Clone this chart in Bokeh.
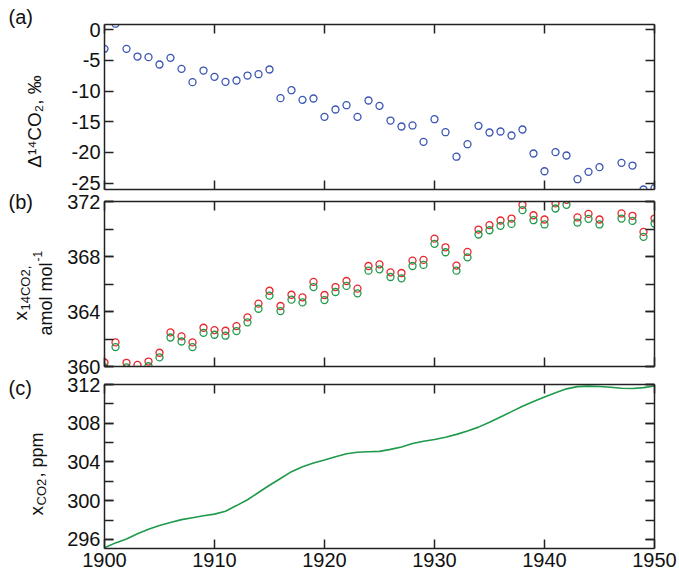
import math
from bokeh.plotting import figure
from bokeh.layouts import column, row
from bokeh.models import (LinearAxis, SingleIntervalTicker, Range1d, ColumnDataSource,
                          PrintfTickFormatter)
from bokeh.core.properties import value
from bokeh.embed import file_html
from bokeh.resources import INLINE

# ---------------- data ----------------
years_pts = [1900, 1901, 1902, 1903, 1904, 1905, 1906, 1907, 1908, 1909,
             1910, 1911, 1912, 1913, 1914, 1915, 1916, 1917, 1918, 1919,
             1920, 1921, 1922, 1923, 1924, 1925, 1926, 1927, 1928, 1929,
             1930, 1931, 1932, 1933, 1934, 1935, 1936, 1937, 1938, 1939,
             1940, 1941, 1942, 1943, 1944, 1945, 1947, 1948, 1949, 1950]

d14co2 = [-3.1, 1.0, -3.1, -4.36, -4.46, -5.66, -4.57, -6.36, -8.54, -6.64,
          -7.67, -8.49, -8.27, -7.46, -7.24, -6.47, -11.15, -9.85, -11.42, -11.2,
          -14.2, -13.0, -12.3, -14.2, -11.53, -12.4, -14.8, -15.77, -15.6, -18.27,
          -14.58, -16.7, -20.7, -18.66, -15.66, -16.75, -16.59, -17.24, -16.26, -20.18,
          -23.07, -19.96, -20.5, -24.37, -23.17, -22.41, -21.7, -22.14, -26.05, -25.84]

x14_red = [360.29, 361.75, 360.27, 360.12, 360.36, 361.0, 362.48, 362.19, 361.75, 362.82,
           362.65, 362.6, 362.94, 363.57, 364.57, 365.51, 364.4, 365.22, 365.03, 366.15,
           365.2, 365.78, 366.22, 365.66, 367.31, 367.43, 366.85, 366.8, 367.7, 367.75,
           369.3, 368.67, 367.34, 368.33, 369.96, 370.28, 370.62, 370.76, 371.76, 371.0,
           370.69, 371.86, 372.12, 370.84, 371.1, 370.69, 371.13, 370.96, 369.79, 370.76]

x14_green = [359.93, 361.41, 359.93, 359.76, 360.02, 360.66, 362.11, 361.82, 361.41, 362.45,
             362.31, 362.24, 362.58, 363.21, 364.2, 365.15, 364.03, 364.86, 364.66, 365.78,
             364.83, 365.42, 365.86, 365.32, 366.97, 367.07, 366.51, 366.41, 367.31, 367.39,
             368.92, 368.31, 366.97, 367.94, 369.6, 369.91, 370.23, 370.37, 371.37, 370.64,
             370.33, 371.49, 371.76, 370.47, 370.74, 370.33, 370.76, 370.59, 369.43, 370.4]

years_line = list(range(1900, 1951))
xco2 = [295.15, 295.65, 296.05, 296.6, 297.05, 297.45, 297.75, 298.05, 298.25, 298.45,
        298.62, 298.92, 299.5, 300.1, 300.85, 301.6, 302.3, 303.0, 303.5, 303.9,
        304.2, 304.55, 304.85, 305.0, 305.05, 305.1, 305.3, 305.55, 305.9, 306.15,
        306.32, 306.55, 306.85, 307.2, 307.6, 308.1, 308.65, 309.2, 309.75, 310.25,
        310.7, 311.15, 311.55, 311.78, 311.83, 311.8, 311.72, 311.62, 311.58, 311.68,
        311.85]

panel_tags = ["(a)", "(b)", "(c)"]

# ---------------- styling ----------------
FONT = "Liberation Sans"
AX = "#222222"
TXT = "#111111"
BLUE = "#3a55b4"
RED = "#e8262b"
GREEN = "#1e9a4a"
LAB_W = 60            # width of the left strip holding the axis titles
W_LEFT, W_RIGHT, FW = 104 - LAB_W, 25, 550

x_range = Range1d(1900, 1950)


def style_axis(ax, ticker, show_labels):
    ax.ticker = ticker
    ax.axis_line_color = AX
    ax.axis_line_width = 1.5
    ax.major_tick_line_color = AX
    ax.minor_tick_line_color = AX
    ax.major_tick_line_width = 1.5
    ax.minor_tick_line_width = 1.5
    ax.major_tick_in = 9
    ax.major_tick_out = 0
    ax.minor_tick_in = 9
    ax.minor_tick_out = 0
    ax.major_label_text_font = FONT
    ax.formatter = PrintfTickFormatter(format="%d")
    if show_labels:
        ax.major_label_text_color = TXT
        ax.major_label_text_font_size = "20px"
        ax.major_label_standoff = 4
    else:
        ax.major_label_text_color = None
        ax.major_label_text_font_size = "1px"
        ax.major_label_standoff = 0


def make_fig(y_range, fh, top, bottom, yticker, xlabels):
    p = figure(frame_width=FW, frame_height=fh, x_range=x_range, y_range=y_range,
               output_backend="svg", toolbar_location=None,
               min_border_left=W_LEFT, min_border_right=W_RIGHT,
               min_border_top=top, min_border_bottom=bottom)
    p.grid.visible = False
    p.outline_line_color = None
    xt = SingleIntervalTicker(interval=10, num_minor_ticks=0)
    style_axis(p.xaxis[0], xt, xlabels)
    style_axis(p.yaxis[0], yticker, True)
    top_ax = LinearAxis()
    style_axis(top_ax, xt, False)
    p.add_layout(top_ax, "above")
    right_ax = LinearAxis()
    style_axis(right_ax, yticker, False)
    p.add_layout(right_ax, "right")
    return p


# ---- panel (a)
pa = make_fig(Range1d(-26.05, 0.87), 165, 24, 4,
              SingleIntervalTicker(interval=5, num_minor_ticks=0), False)
src_a = ColumnDataSource(dict(year=years_pts, v=d14co2))
pa.scatter("year", "v", source=src_a, marker="circle", size=7, fill_color=None,
           line_color=BLUE, line_width=1.3)

# ---- panel (b)
pb = make_fig(Range1d(360, 372), 165, 8, 10,
              SingleIntervalTicker(interval=4, num_minor_ticks=2), False)
src_b = ColumnDataSource(dict(year=years_pts, r=x14_red, g=x14_green))
pb.scatter("year", "r", source=src_b, marker="circle", size=7, fill_color=None,
           line_color=RED, line_width=1.3)
pb.scatter("year", "g", source=src_b, marker="circle", size=7, fill_color=None,
           line_color=GREEN, line_width=1.3)

# ---- panel (c)
pc = make_fig(Range1d(295.07, 312), 164, 8, 28,
              SingleIntervalTicker(interval=4, num_minor_ticks=2), True)
src_c = ColumnDataSource(dict(year=years_line, v=xco2))
pc.line("year", "v", source=src_c, line_color=GREEN, line_width=1.6)

# ---- left strip with panel tags and axis titles (screen-pixel coordinates)
pl = figure(frame_width=LAB_W, frame_height=576, x_range=Range1d(0, LAB_W),
            y_range=Range1d(576, 0), x_axis_type=None, y_axis_type=None,
            output_backend="svg", toolbar_location=None, min_border=0)
pl.grid.visible = False
pl.outline_line_color = None

pl.text(x=[8, 8, 8], y=[16, 201, 387], text=panel_tags, text_font=value(FONT),
        text_font_size="20px", text_align="left", text_baseline="middle",
        text_color=TXT)


def vtext(x, y, t, size, align="left"):
    pl.text(x=[x], y=[y], text=[t], angle=math.pi / 2, text_font=value(FONT),
            text_font_size=size, text_align=align, text_baseline="alphabetic",
            text_color=TXT)


vtext(34, 121, "Δ¹⁴CO₂, ‰", "19px", align="center")
vtext(20, 320, "x", "19px")
vtext(25, 310, "14CO2,", "13px")
vtext(45, 335, "amol mol", "18px")
vtext(37, 261, "-1", "12px")
vtext(36, 515, "x", "19px")
vtext(41, 505, "CO2", "13px")
vtext(36, 477, ", ppm", "18px")

layout = row(pl, column(pa, pb, pc, spacing=0), spacing=0)

with open("out.html", "w") as f:
    f.write(file_html(layout, INLINE))
